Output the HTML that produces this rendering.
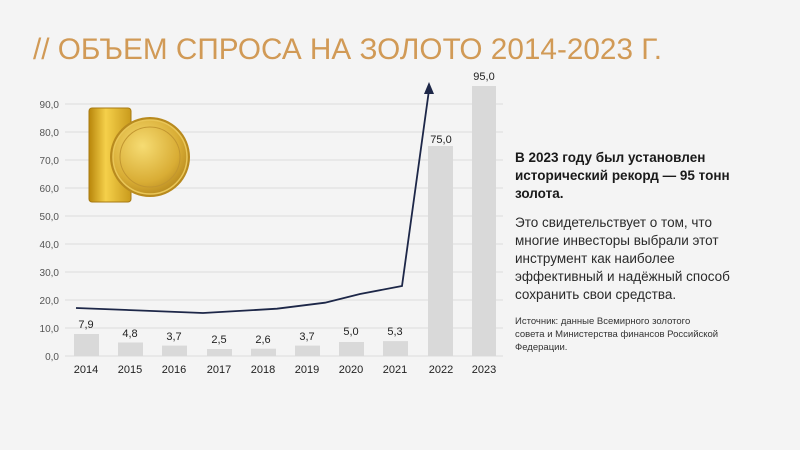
<!DOCTYPE html>
<html><head><meta charset="utf-8"><style>
html,body{margin:0;padding:0;background:#f4f4f4;}
svg{display:block;font-family:"Liberation Sans",sans-serif;}
</style></head><body>
<svg width="800" height="450" viewBox="0 0 800 450" xmlns="http://www.w3.org/2000/svg">
<defs>
<linearGradient id="gb" x1="0" x2="1" y1="0" y2="0"><stop offset="0" stop-color="#b8860b"/><stop offset="0.4" stop-color="#f5d04a"/><stop offset="1" stop-color="#c99a1c"/></linearGradient>
<radialGradient id="gc" cx="0.4" cy="0.35" r="0.7"><stop offset="0" stop-color="#f6dc73"/><stop offset="0.7" stop-color="#d9ad35"/><stop offset="1" stop-color="#b88a1e"/></radialGradient>
</defs>
<rect width="800" height="450" fill="#f4f4f4"/>
<text x="33" y="59" font-size="30" fill="#d19a56" textLength="629" lengthAdjust="spacingAndGlyphs">// ОБЪЕМ СПРОСА НА ЗОЛОТО 2014-2023 Г.</text>
<g stroke="#dcdcdc" stroke-width="1">
<line x1="65" x2="503" y1="356" y2="356"/><line x1="65" x2="503" y1="328" y2="328"/><line x1="65" x2="503" y1="300" y2="300"/><line x1="65" x2="503" y1="272" y2="272"/><line x1="65" x2="503" y1="244" y2="244"/><line x1="65" x2="503" y1="216" y2="216"/><line x1="65" x2="503" y1="188" y2="188"/><line x1="65" x2="503" y1="160" y2="160"/><line x1="65" x2="503" y1="132" y2="132"/><line x1="65" x2="503" y1="104" y2="104"/>
</g>
<g font-size="10" fill="#555" text-anchor="end">
<text x="59" y="360">0,0</text><text x="59" y="332">10,0</text><text x="59" y="304">20,0</text><text x="59" y="276">30,0</text><text x="59" y="248">40,0</text><text x="59" y="220">50,0</text><text x="59" y="192">60,0</text><text x="59" y="164">70,0</text><text x="59" y="136">80,0</text><text x="59" y="108">90,0</text>
</g>
<g fill="#d9d9d9">
<rect x="74" y="334" width="25" height="22"/><rect x="118" y="342.5" width="25" height="13.5"/><rect x="162" y="345.6" width="25" height="10.4"/><rect x="207" y="349" width="25" height="7"/><rect x="251" y="348.7" width="25" height="7.3"/><rect x="295" y="345.6" width="25" height="10.4"/><rect x="339" y="342" width="25" height="14"/><rect x="383" y="341.1" width="25" height="14.9"/><rect x="428" y="146" width="25" height="210"/><rect x="472" y="86" width="24" height="270"/>
</g>
<g font-size="11" fill="#222" text-anchor="middle">
<text x="86" y="328">7,9</text><text x="130" y="337">4,8</text><text x="174" y="340">3,7</text><text x="219" y="343">2,5</text><text x="263" y="343">2,6</text><text x="307" y="340">3,7</text><text x="351" y="335">5,0</text><text x="395" y="335">5,3</text><text x="441" y="143">75,0</text><text x="484" y="80">95,0</text>
</g>
<g font-size="11" fill="#222" text-anchor="middle">
<text x="86" y="373">2014</text><text x="130" y="373">2015</text><text x="174" y="373">2016</text><text x="219" y="373">2017</text><text x="263" y="373">2018</text><text x="307" y="373">2019</text><text x="351" y="373">2020</text><text x="395" y="373">2021</text><text x="441" y="373">2022</text><text x="484" y="373">2023</text>
</g>
<polyline points="76,308 140,310.5 203,313 277,308.7 325,302.7 360,294 402,286 429,90" fill="none" stroke="#1d2748" stroke-width="1.8"/>
<polygon points="429,82 424,94 434,94" fill="#1d2748"/>
<rect x="89" y="108" width="42" height="94" rx="3" fill="url(#gb)" stroke="#a87a12" stroke-width="1"/>
<circle cx="150" cy="157" r="40" fill="#b88a1e"/>
<circle cx="150" cy="157" r="37" fill="url(#gc)" stroke="#e9c658" stroke-width="1.5"/>
<circle cx="150" cy="157" r="30" fill="none" stroke="#c29630" stroke-width="1"/>
<g font-size="13.5" fill="#1a1a1a" font-weight="bold">
<text x="515" y="162">В 2023 году был установлен</text>
<text x="515" y="180">исторический рекорд — 95 тонн</text>
<text x="515" y="198">золота.</text>
</g>
<g font-size="13.5" fill="#2a2a2a">
<text x="515" y="227">Это свидетельствует о том, что</text>
<text x="515" y="245">многие инвесторы выбрали этот</text>
<text x="515" y="263">инструмент как наиболее</text>
<text x="515" y="281">эффективный и надёжный способ</text>
<text x="515" y="299">сохранить свои средства.</text>
</g>
<g font-size="9.5" fill="#333">
<text x="515" y="324">Источник: данные Всемирного золотого</text>
<text x="515" y="337">совета и Министерства финансов Российской</text>
<text x="515" y="350">Федерации.</text>
</g>
</svg>
</body></html>
